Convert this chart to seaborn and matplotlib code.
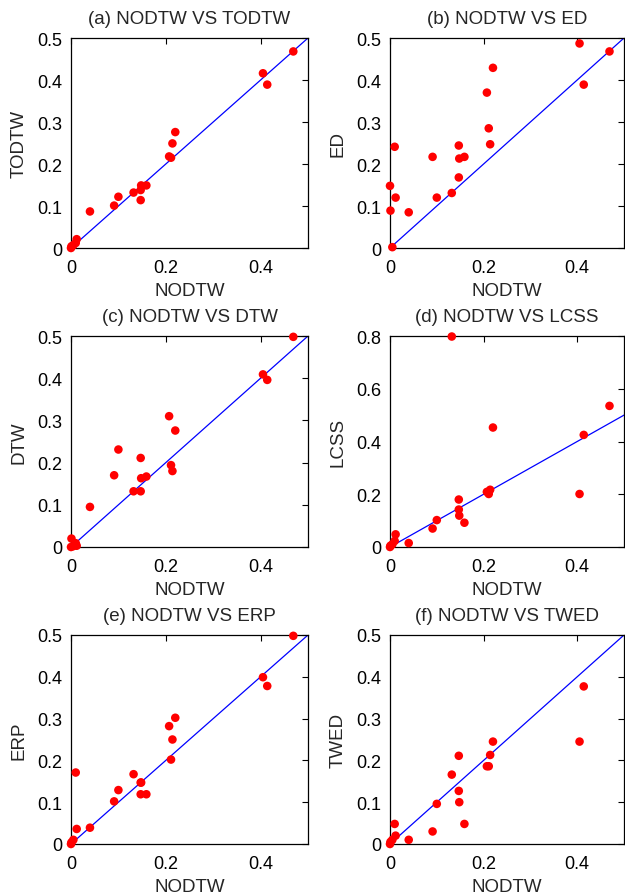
import matplotlib
matplotlib.use("Agg")
import matplotlib.pyplot as plt
import seaborn as sns
import numpy as np
import pandas as pd

# NODTW error rates (shared x values for all six panels)
nodtw = [0.000, 0.001, 0.005, 0.010, 0.012, 0.040, 0.091, 0.100, 0.132, 0.147,
         0.147, 0.148, 0.159, 0.207, 0.211, 0.214, 0.220, 0.405, 0.414, 0.469]

todtw = [0.000, 0.004, 0.007, 0.012, 0.021, 0.087, 0.101, 0.122, 0.132, 0.138,
         0.114, 0.149, 0.149, 0.218, 0.215, 0.249, 0.276, 0.416, 0.389, 0.468]
ed = [0.148, 0.089, 0.002, 0.241, 0.120, 0.085, 0.217, 0.120, 0.131, 0.244,
      0.168, 0.213, 0.217, 0.370, 0.285, 0.247, 0.429, 0.487, 0.389, 0.468]
dtw = [0.000, 0.020, 0.002, 0.009, 0.003, 0.095, 0.170, 0.231, 0.132, 0.211,
       0.132, 0.163, 0.167, 0.310, 0.194, 0.180, 0.276, 0.409, 0.396, 0.498]
lcss = [0.000, 0.005, 0.010, 0.023, 0.048, 0.015, 0.070, 0.102, 0.798, 0.180,
        0.142, 0.119, 0.092, 0.209, 0.201, 0.217, 0.453, 0.201, 0.425, 0.535]
erp = [0.000, 0.004, 0.010, 0.171, 0.036, 0.039, 0.102, 0.129, 0.167, 0.147,
       0.119, 0.147, 0.119, 0.282, 0.202, 0.250, 0.302, 0.399, 0.378, 0.498]
twed = [0.000, 0.005, 0.010, 0.048, 0.020, 0.010, 0.030, 0.096, 0.166, 0.211,
        0.127, 0.100, 0.048, 0.186, 0.186, 0.213, 0.245, 0.245, 0.377, np.nan]

diag = [0.0, 0.5]

panels = [
    ("(a) NODTW VS TODTW", "TODTW", todtw, 0.5, [0, 0.1, 0.2, 0.3, 0.4, 0.5]),
    ("(b) NODTW VS ED", "ED", ed, 0.5, [0, 0.1, 0.2, 0.3, 0.4, 0.5]),
    ("(c) NODTW VS DTW", "DTW", dtw, 0.5, [0, 0.1, 0.2, 0.3, 0.4, 0.5]),
    ("(d) NODTW VS LCSS", "LCSS", lcss, 0.8, [0, 0.2, 0.4, 0.6, 0.8]),
    ("(e) NODTW VS ERP", "ERP", erp, 0.5, [0, 0.1, 0.2, 0.3, 0.4, 0.5]),
    ("(f) NODTW VS TWED", "TWED", twed, 0.5, [0, 0.1, 0.2, 0.3, 0.4, 0.5]),
]

sns.set_theme(style="white")
plt.rcParams['font.family'] = ['Liberation Sans', 'DejaVu Sans']
plt.rcParams['font.size'] = 13

W, H = 625, 895
fig = plt.figure(figsize=(W / 100, H / 100), dpi=100)

# axes boxes in pixels: (left, top, right, bottom)
boxes = [
    (71, 39, 308, 249), (390, 39, 624, 249),
    (71, 337, 308, 548), (390, 337, 624, 548),
    (71, 636, 308, 845), (390, 636, 624, 845),
]

def fmt(v):
    return "0" if v == 0 else f"{v:g}"

for (title, ylab, vals, ymax, yt), (l, t, r, b) in zip(panels, boxes):
    ax = fig.add_axes([l / W, 1 - b / H, (r - l) / W, (b - t) / H])
    df = pd.DataFrame({"x": nodtw, "y": vals}).dropna()
    sns.lineplot(x=diag, y=diag, ax=ax, color="#0000ff", linewidth=0.9)
    sns.scatterplot(data=df, x="x", y="y", ax=ax, color="#ff0000",
                    s=38, edgecolor="none", zorder=3, clip_on=False)
    ax.set_xlim(0, 0.5)
    ax.set_ylim(0, ymax)
    ax.set_xticks([0, 0.2, 0.4])
    ax.set_xticklabels([fmt(v) for v in [0, 0.2, 0.4]])
    ax.set_yticks(yt)
    ax.set_yticklabels([fmt(v) for v in yt])
    ax.tick_params(direction="in", length=4, width=0.8, top=True, right=True,
                   labelsize=13, colors="black")
    ax.tick_params(axis="x", pad=8)
    ax.tick_params(axis="y", pad=6)
    ax.set_title(title, fontsize=13.5, pad=11)
    ax.set_xlabel("NODTW", fontsize=13.5, labelpad=4)
    ax.set_ylabel(ylab, fontsize=13.5, labelpad=7)
    for sp in ax.spines.values():
        sp.set_color("black")
        sp.set_linewidth(0.9)

fig.savefig("out.png", dpi=100)
